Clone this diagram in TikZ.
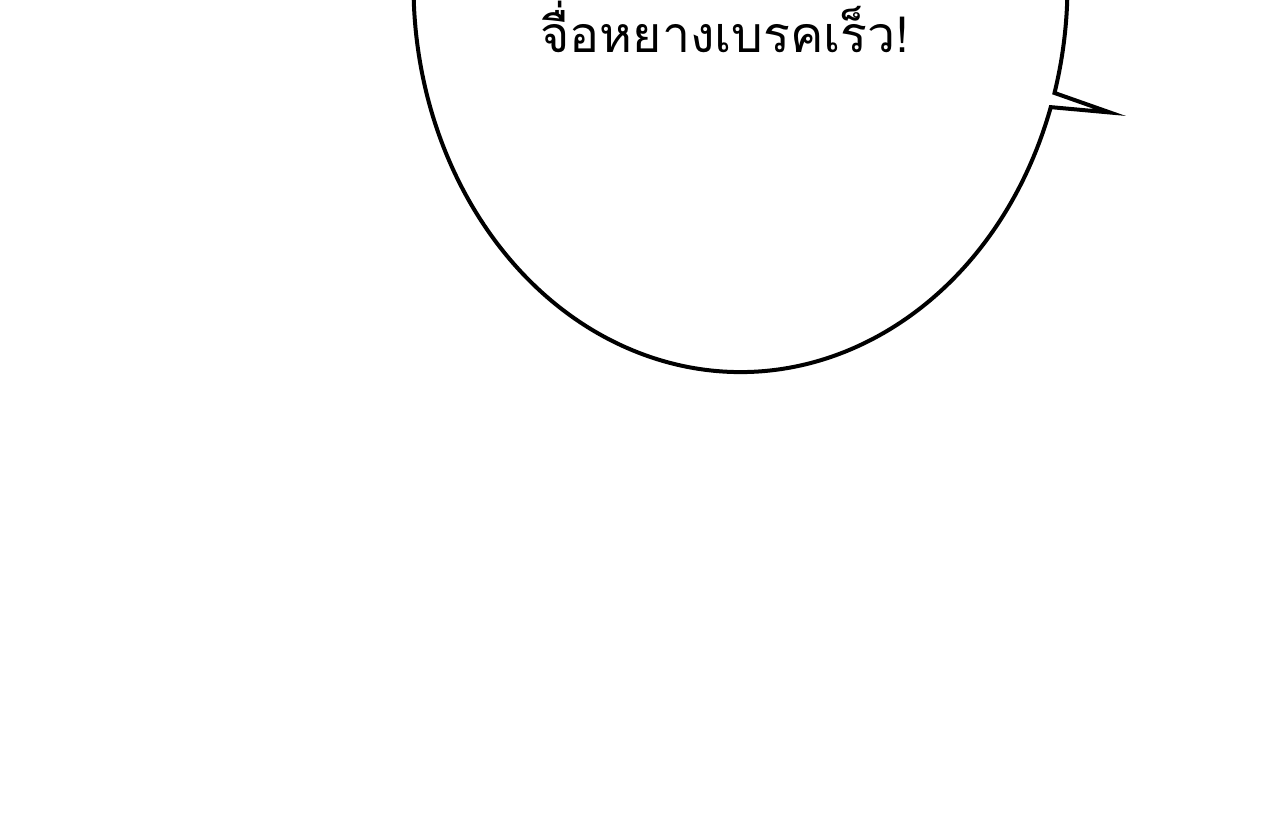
\documentclass[tikz,border=0pt]{standalone}
\usepackage{fontspec}
\newfontfamily\thaifont[Script=Thai]{Loma}
\begin{document}
\begin{tikzpicture}[x=1pt,y=-1pt,
  bubble/.style={line width=4pt,line join=miter,miter limit=20,draw=black,fill=white},
  speech/.style={font=\thaifont\fontsize{50}{60}\selectfont,anchor=base,inner sep=0pt}]
\useasboundingbox (0,0) rectangle (1280,826);
\clip (0,0) rectangle (1280,826);
\fill[white] (0,0) rectangle (1280,826);
\coordinate (c) at (740.5,-15);
\coordinate (tip) at (1110,112.5);
\path (c) ++(-4:327 and 387) coordinate (s);
\path (c) ++(18.4:327 and 387) coordinate (a2);
\draw[bubble] (s) arc[start angle=-4,end angle=16.2,x radius=327,y radius=387]
  -- (tip) -- (a2)
  arc[start angle=18.4,end angle=184,x radius=327,y radius=387];
\node[speech] (t) at (725,53) {จื่อหยางเบรคเร็ว!};
\end{tikzpicture}
\end{document}
